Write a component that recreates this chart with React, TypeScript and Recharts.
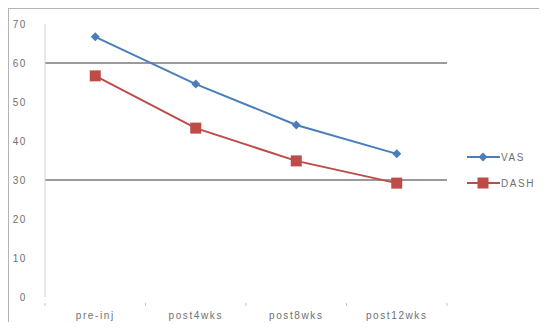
import { LineChart, Line, XAxis, YAxis, ReferenceLine } from "recharts";

const stages = ["pre-inj", "post4wks", "post8wks", "post12wks"];
const vasScores = [66.7, 54.6, 44.1, 36.7];
const dashScores = [56.7, 43.3, 34.9, 29.2];
const yTicks = [0, 10, 20, 30, 40, 50, 60, 70];
const gridValues = [60, 30];

const VAS_COLOR = "#4a7ebb";
const DASH_COLOR = "#be4b48";
const TEXT_COLOR = "#707070";

const WIDTH = 547;
const HEIGHT = 330;
const MARGIN = { top: 24, right: 100, left: 0, bottom: 0 };
const Y_AXIS_W = 45;
const X_AXIS_H = 33;
const BAND = (WIDTH - MARGIN.left - MARGIN.right - Y_AXIS_W) / stages.length;

const data = stages.map((stage, i) => ({
  stage,
  vas: vasScores[i],
  dash: dashScores[i],
}));

const textStyle = {
  fontFamily: "'Liberation Sans', Arial, sans-serif",
  fontSize: 10,
  letterSpacing: 1.6,
  fill: TEXT_COLOR,
};

function Diamond({ cx, cy, fill }: any) {
  if (cx == null || cy == null) return null;
  const r = 4.5;
  return (
    <path
      d={`M${cx},${cy - r} L${cx + r},${cy} L${cx},${cy + r} L${cx - r},${cy} Z`}
      fill={fill}
    />
  );
}

function Square({ cx, cy, fill }: any) {
  if (cx == null || cy == null) return null;
  const s = 5.5;
  return <rect x={cx - s} y={cy - s} width={s * 2} height={s * 2} fill={fill} />;
}

// category labels plus Excel-style tick marks between categories
function StageTick({ x, y, payload, index }: any) {
  return (
    <g>
      <line x1={x + BAND / 2} x2={x + BAND / 2} y1={y - 2} y2={y + 1} stroke="#c8c8c8" />
      {index === 0 && (
        <line x1={x - BAND / 2} x2={x - BAND / 2} y1={y - 2} y2={y + 1} stroke="#c8c8c8" />
      )}
      <text x={x} y={y + 14} textAnchor="middle" style={textStyle}>
        {payload.value}
      </text>
    </g>
  );
}

function LegendBox() {
  const items = [
    { label: "VAS", color: VAS_COLOR, Marker: Diamond },
    { label: "DASH", color: DASH_COLOR, Marker: Square },
  ];
  return (
    <svg width={80} height={50}>
      {items.map((it, i) => {
        const cy = 10 + i * 26;
        return (
          <g key={it.label}>
            <line x1={4} x2={37} y1={cy} y2={cy} stroke={it.color} strokeWidth={2} />
            <it.Marker cx={20} cy={cy} fill={it.color} />
            <text x={38} y={cy + 4} style={textStyle}>
              {it.label}
            </text>
          </g>
        );
      })}
    </svg>
  );
}

export default function App() {
  return (
    <div style={{ position: "relative", width: WIDTH, height: HEIGHT, margin: -8, background: "#fff" }}>
      <div
        style={{
          position: "absolute",
          left: 7,
          top: 7,
          right: 0,
          bottom: 0,
          borderTop: "2px solid #b4b4b4",
          borderLeft: "2px solid #b4b4b4",
        }}
      />
      <LineChart width={WIDTH} height={HEIGHT} data={data} margin={MARGIN}>
        <XAxis
          dataKey="stage"
          height={X_AXIS_H}
          axisLine={false}
          tickLine={false}
          tick={<StageTick />}
          interval={0}
          padding={{ left: BAND / 2, right: BAND / 2 }}
        />
        <YAxis
          width={Y_AXIS_W}
          domain={[0, 70]}
          ticks={yTicks}
          axisLine={{ stroke: "#d4d4d4" }}
          tickLine={false}
          tickMargin={12}
          tick={textStyle}
        />
        {gridValues.map((v) => (
          <ReferenceLine key={v} y={v} stroke="#9a9a9a" strokeWidth={2} />
        ))}
        <Line
          dataKey="vas"
          name="VAS"
          stroke={VAS_COLOR}
          strokeWidth={2}
          dot={<Diamond fill={VAS_COLOR} />}
          isAnimationActive={false}
        />
        <Line
          dataKey="dash"
          name="DASH"
          stroke={DASH_COLOR}
          strokeWidth={2}
          dot={<Square fill={DASH_COLOR} />}
          isAnimationActive={false}
        />
      </LineChart>
      <div style={{ position: "absolute", left: 463, top: 147 }}>
        <LegendBox />
      </div>
    </div>
  );
}
